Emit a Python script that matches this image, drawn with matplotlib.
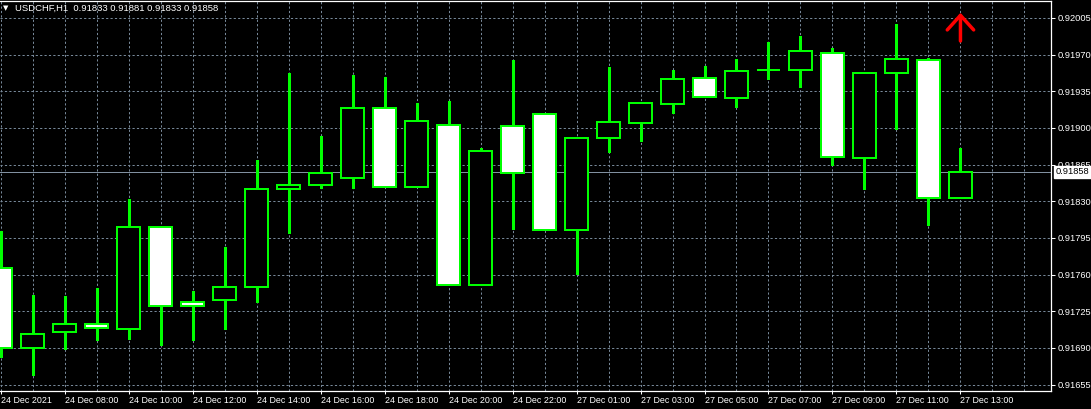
import matplotlib
matplotlib.use("Agg")
import matplotlib.pyplot as plt
import numpy as np

# ---- data (USDCHF H1) ----
opens  = [0.91766, 0.91690, 0.91705, 0.91713, 0.91708, 0.91805, 0.91734, 0.91736, 0.91748, 0.91842,
          0.91846, 0.91852, 0.91919, 0.91844, 0.91903, 0.91750, 0.91902, 0.91913, 0.91803, 0.91890,
          0.91905, 0.91923, 0.91948, 0.91929, 0.91955, 0.91955, 0.91972, 0.91871, 0.91952, 0.91965,
          0.91833]
highs  = [0.91802, 0.91741, 0.91740, 0.91747, 0.91832, 0.91806, 0.91744, 0.91786, 0.91869, 0.91952,
          0.91892, 0.91951, 0.91949, 0.91924, 0.91926, 0.91881, 0.91965, 0.91913, 0.91890, 0.91958,
          0.91924, 0.91955, 0.91959, 0.91966, 0.91982, 0.91988, 0.91976, 0.91953, 0.91999, 0.91967,
          0.91881]
lows   = [0.91681, 0.91664, 0.91689, 0.91698, 0.91699, 0.91693, 0.91698, 0.91708, 0.91734, 0.91800,
          0.91843, 0.91843, 0.91844, 0.91844, 0.91750, 0.91750, 0.91804, 0.91803, 0.91761, 0.91877,
          0.91888, 0.91914, 0.91930, 0.91920, 0.91947, 0.91939, 0.91865, 0.91842, 0.91899, 0.91807,
          0.91833]
closes = [0.91690, 0.91703, 0.91713, 0.91709, 0.91805, 0.91730, 0.91730, 0.91748, 0.91842, 0.91846,
          0.91857, 0.91919, 0.91844, 0.91907, 0.91750, 0.91878, 0.91857, 0.91803, 0.91890, 0.91906,
          0.91924, 0.91947, 0.91930, 0.91954, 0.91955, 0.91973, 0.91872, 0.91952, 0.91966, 0.91833,
          0.91858]

x_tick_labels = ["24 Dec 2021", "24 Dec 08:00", "24 Dec 10:00", "24 Dec 12:00", "24 Dec 14:00",
                 "24 Dec 16:00", "24 Dec 18:00", "24 Dec 20:00", "24 Dec 22:00", "27 Dec 01:00",
                 "27 Dec 03:00", "27 Dec 05:00", "27 Dec 07:00", "27 Dec 09:00", "27 Dec 11:00",
                 "27 Dec 13:00"]
y_ticks = [0.91655, 0.91690, 0.91725, 0.91760, 0.91795, 0.91830, 0.91865, 0.91900,
           0.91935, 0.91970, 0.92005]

symbol = "USDCHF,H1"
bid = 0.91858
signal_bar = 30
signal_low = 0.91983
signal_high = 0.92010

GREEN = "#00ff00"
GRID = "#778899"

fig = plt.figure(figsize=(10.91, 4.09), dpi=100, facecolor="black")
W, H = 1091, 409
ax = fig.add_axes([0, (H - 390.5) / H, 1051 / W, 389.5 / H], facecolor="black")

n = len(opens)
xs = np.arange(n)
o = np.array(opens); c = np.array(closes); hi = np.array(highs); lo = np.array(lows)

# wicks
ax.vlines(xs, lo, hi, color=GREEN, linewidth=0.8, zorder=3, antialiased=False)
# bodies (2 px outline)
bull = c >= o
face = np.where(bull, "black", "white")
ax.bar(xs, np.abs(c - o), bottom=np.minimum(o, c), width=0.70, color=face,
       edgecolor=GREEN, linewidth=1.44, zorder=4, antialiased=False)

# bid line
ax.axhline(bid, color="#8190a0", linewidth=0.72, zorder=2, antialiased=False)

# signal arrow
ax.annotate("", xy=(signal_bar, signal_high), xycoords="data",
            xytext=(signal_bar, signal_low), textcoords="data",
            arrowprops=dict(arrowstyle="->,head_length=1.05,head_width=0.95", color="red",
                            lw=2.5, shrinkA=0, shrinkB=0), zorder=6)

# axes limits
ax.set_xlim(-0.02, 32.83)
ax.set_ylim(0.916494, 0.920212)

# grid
ax.set_xticks(np.arange(0, n, 2))
ax.set_xticklabels(x_tick_labels)
ax.set_xticks(np.arange(0, 33, 1), minor=True)
ax.set_yticks(y_ticks)
ax.set_yticklabels([f"{v:.5f}" for v in y_ticks])
ax.grid(True, which="both", axis="x", color=GRID, linestyle=(0, (2.2, 2.2)), linewidth=0.72, zorder=1)
ax.grid(True, which="major", axis="y", color=GRID, linestyle=(0, (2.2, 2.2)), linewidth=0.72, zorder=1)
ax.set_axisbelow(True)

ax.yaxis.tick_right()
ax.tick_params(axis="y", which="major", colors="white", length=3, width=0.75, pad=1.5,
               labelsize=6.7, labelcolor="white")
ax.tick_params(axis="x", which="major", colors="white", length=2.5, width=0.75, pad=1.5,
               labelsize=6.4, labelcolor="white")
ax.tick_params(axis="x", which="minor", length=0)
for lab in ax.get_xticklabels():
    lab.set_horizontalalignment("left")
    lab.set_fontfamily("Liberation Sans")
for lab in ax.get_yticklabels():
    lab.set_fontfamily("Liberation Sans")

for side in ["top", "right", "bottom"]:
    ax.spines[side].set_color("white")
    ax.spines[side].set_linewidth(0.9)
ax.spines["left"].set_visible(False)

# bid label
ax.annotate(f"{bid:.5f}", xy=(1, bid), xycoords=("axes fraction", "data"),
            xytext=(3.5, 0), textcoords="offset points", va="center", ha="left",
            fontsize=6.7, family="Liberation Sans", color="black",
            bbox=dict(boxstyle="square,pad=0.2", facecolor="white", edgecolor="white"),
            annotation_clip=False, zorder=10)

# header
fig.text(3 / W, 1 - 8.5 / H, "\u25bc", color="white", fontsize=5, va="center", ha="left",
         family="DejaVu Sans")
fig.text(15 / W, 1 - 8.5 / H, f"{symbol}  {opens[-1]:.5f} {highs[-1]:.5f} {lows[-1]:.5f} {closes[-1]:.5f}",
         color="white", fontsize=6.8, va="center", ha="left", family="Liberation Sans")

fig.savefig("out.png", dpi=100, facecolor="black")
